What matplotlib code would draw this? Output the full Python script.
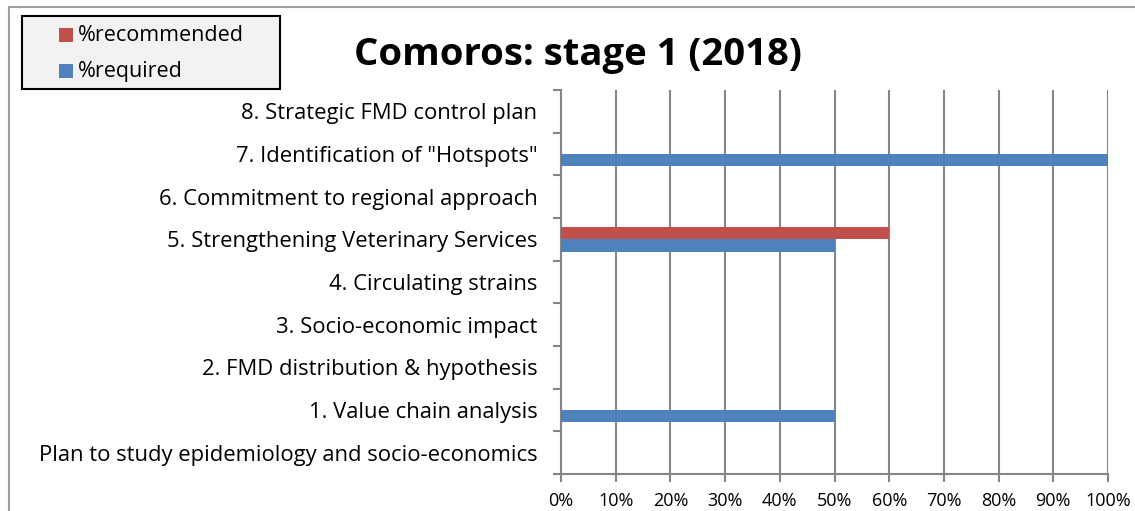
import matplotlib.pyplot as plt
import numpy as np
from matplotlib.patches import Rectangle

# categories from bottom to top
categories = ['Plan to study epidemiology and socio-economics',
              '1. Value chain analysis',
              '2. FMD distribution & hypothesis',
              '3. Socio-economic impact',
              '4. Circulating strains',
              '5. Strengthening Veterinary Services',
              '6. Commitment to regional approach',
              '7. Identification of "Hotspots"',
              '8. Strategic FMD control plan']
recommended = [0, 0, 0, 0, 0, 0.60, 0, 0, 0]
required = [0, 0.50, 0, 0, 0, 0.50, 0, 1.00, 0]
xticks = np.arange(0, 1.01, 0.1)
series_names = ['%recommended', '%required']
series_colors = ['#C0504D', '#4F81BD']

plt.rcParams['font.family'] = ['Open Sans', 'DejaVu Sans']

W, H = 1135, 511
fig = plt.figure(figsize=(W/100, H/100), dpi=100)
ax = fig.add_axes([561/W, 1-474/H, 547/W, 384/H])

# outer chart border
fig.patches.append(Rectangle((9/W, -0.1), 1.2, 1.1 - 7/H, transform=fig.transFigure,
                             fill=False, edgecolor='#a0a0a0', linewidth=1.5))

y = np.arange(len(categories))
h = 0.29
ax.barh(y + h/2, recommended, height=h, color=series_colors[0], zorder=3)
ax.barh(y - h/2, required, height=h, color=series_colors[1], zorder=3)

ax.set_xlim(0, 1)
ax.set_ylim(-0.5, len(categories) - 0.5)
ax.set_xticks(xticks)
ax.set_xticklabels(['%d%%' % round(v * 100) for v in xticks], fontsize=13)
ax.xaxis.grid(True, color='#868686', linewidth=1.5, zorder=0)

ax.set_yticks(np.arange(-0.5, len(categories), 1))
ax.set_yticklabels([])
ax.set_yticks(y, minor=True)
ax.set_yticklabels(categories, minor=True, fontsize=15.8)
ax.tick_params(axis='y', which='minor', length=0, pad=17)
ax.tick_params(axis='y', which='major', length=6, color='#868686', width=1.5)
ax.tick_params(axis='x', length=6, color='#868686', width=1.5, pad=7)

for s in ['top', 'right']:
    ax.spines[s].set_visible(False)
for s in ['left', 'bottom']:
    ax.spines[s].set_color('#868686')
    ax.spines[s].set_linewidth(1.5)

fig.text(578/W, 1-55/H, 'Comoros: stage 1 (2018)', ha='center', va='center',
         fontsize=27.5, fontweight='bold')

# legend box drawn by hand
fig.patches.append(Rectangle((22/W, 1-89/H), 258/W, 73/H, transform=fig.transFigure,
                             facecolor='#f2f2f2', edgecolor='black', linewidth=1.5))
for i, (name, col) in enumerate(zip(series_names, series_colors)):
    yc = 1 - (35 + 36*i)/H
    fig.patches.append(Rectangle((59/W, yc - 7/H), 14/W, 14/H, transform=fig.transFigure,
                                 facecolor=col, edgecolor='none'))
    fig.text(78/W, yc, name, ha='left', va='center', fontsize=15.5)

fig.savefig('out.png', dpi=100)
